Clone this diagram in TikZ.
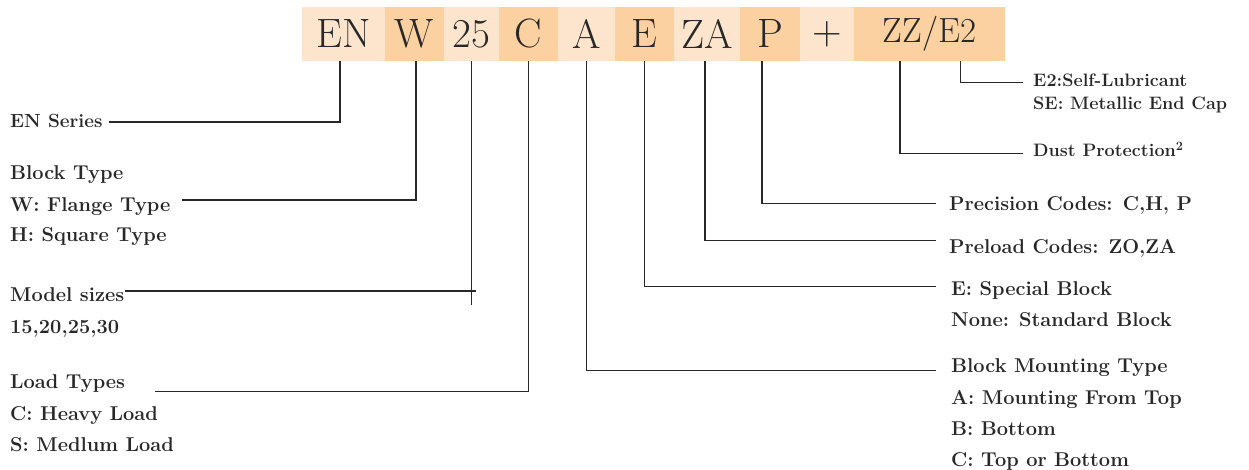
\documentclass[tikz,border=0pt]{standalone}
\usepackage{tikz}
\definecolor{peachlight}{RGB}{253,229,205}
\definecolor{peachdark}{RGB}{251,209,161}
\definecolor{inkgray}{RGB}{40,40,40}

\begin{document}
\begin{tikzpicture}[x=1pt, y=-1pt,
    codebox/.style={inner sep=0pt, minimum height=54pt, text=inkgray, font=\fontsize{41}{41}\selectfont},
    lightbox/.style={codebox, fill=peachlight},
    darkbox/.style={codebox, fill=peachdark},
    lbl/.style={anchor=base west, inner sep=0pt, text=inkgray, font=\fontsize{20}{24}\selectfont\bfseries},
    smalllbl/.style={lbl, font=\fontsize{18}{22}\selectfont\bfseries},
    leader/.style={draw=inkgray, line width=1.2pt}]
    \useasboundingbox (0,0) rectangle (1249,470);

    \node[lightbox, minimum width=83pt] (en) at (343.5,34) {EN};
    \node[darkbox, minimum width=59pt] (w) at (414.5,34) {W};
    \node[lightbox, minimum width=55pt] (sz) at (471.5,34) {25};
    \node[darkbox, minimum width=59pt] (ld) at (528.5,34) {C};
    \node[lightbox, minimum width=57pt] (mt) at (586.5,34) {A};
    \node[darkbox, minimum width=59pt] (sp) at (644.5,34) {E};
    \node[lightbox, minimum width=66pt] (pl) at (707,34) {ZA};
    \node[darkbox, minimum width=60pt] (pc) at (770,34) {P};
    \node[lightbox, minimum width=54pt] (plus) at (827,34) {+};
    \node[darkbox, minimum width=151pt, font=\fontsize{35}{35}\selectfont] (opt) at (929.5,34) {ZZ/E2};

    \node[lbl, font=\fontsize{19}{22}\selectfont\bfseries] (enlbl) at (10,128) {EN Series};
    \node[lbl] (wlbl0) at (10,180) {Block Type};
    \node[lbl] (wlbl) at (10,212) {W: Flange Type};
    \node[lbl] (wlbl2) at (10,241) {H: Square Type};
    \node[lbl] (mslbl) at (10,301) {Model sizes};
    \node[lbl] (mslbl2) at (10,333) {15,20,25,30};
    \node[lbl] (ldlbl) at (10,388) {Load Types};
    \node[lbl] (ldlbl2) at (10,420) {C: Heavy Load};
    \node[lbl] (ldlbl3) at (10,451.7) {S: Medlum Load};

    \node[smalllbl] (e2lbl) at (1033,86.7) {E2:Self-Lubricant};
    \node[smalllbl] (e2lbl2) at (1033,109.3) {SE: Metallic End Cap};
    \node[smalllbl] (zzlbl) at (1033,156.7) {Dust Protection\textsuperscript{2}};
    \node[lbl] (pclbl) at (949,210.7) {Precision Codes: C,H, P};
    \node[lbl] (pllbl) at (949,253.3) {Preload Codes: ZO,ZA};
    \node[lbl] (splbl) at (951,295) {E: Special Block};
    \node[lbl] (splbl2) at (951,326.7) {None: Standard Block};
    \node[lbl] (mtlbl) at (951,372.7) {Block Mounting Type};
    \node[lbl] (mtlbl2) at (951,404) {A: Mounting From Top};
    \node[lbl] (mtlbl3) at (951,435) {B: Bottom};
    \node[lbl] (mtlbl4) at (951,466) {C: Top or Bottom};

    \draw[leader] ([xshift=-3.5pt]en.south) |- ([shift={(6pt,6pt)}]enlbl.base east);
    \draw[leader] ([xshift=1.5pt]w.south) |- ([shift={(11pt,12pt)}]wlbl.base east);
    \draw[leader] ([shift={(1pt,10pt)}]mslbl.base east) coordinate (msend) -- ([xshift=4pt]sz.south |- msend);
    \draw[leader] (sz.south) -- ([yshift=-14pt]sz.south |- msend);
    \draw[leader] (ld.south) |- ([shift={(30pt,-3.7pt)}]ldlbl.base east);

    \draw[leader] (mt.south) |- ([shift={(-15pt,2pt)}]mtlbl.base west);
    \draw[leader] (sp.south) |- ([shift={(-15pt,8.3pt)}]splbl.base west);
    \draw[leader] ([xshift=-2pt]pl.south) |- ([shift={(-13pt,12.6pt)}]pllbl.base west);
    \draw[leader] ([xshift=-8pt]pc.south) |- ([shift={(-13pt,7.4pt)}]pclbl.base west);
    \draw[leader] ([xshift=-29.5pt]opt.south) |- ([shift={(-10.3pt,3.4pt)}]zzlbl.base west);
    \draw[leader] ([xshift=31.2pt]opt.south) |- ([shift={(-10.3pt,4pt)}]e2lbl.base west);
\end{tikzpicture}
\end{document}
